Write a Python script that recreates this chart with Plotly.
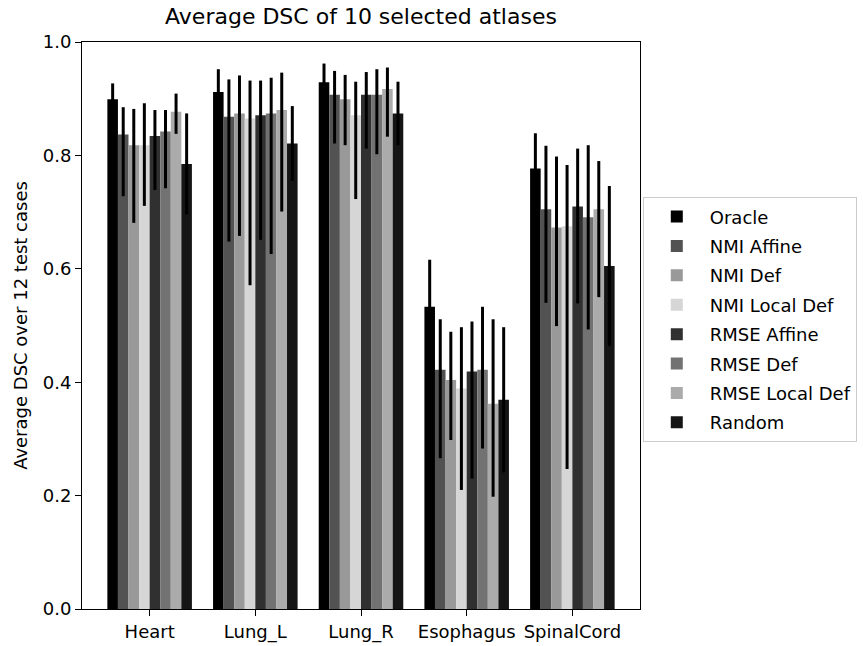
import plotly.graph_objects as go

organs = ["Heart", "Lung_L", "Lung_R", "Esophagus", "SpinalCord"]
methods = ["Oracle", "NMI Affine", "NMI Def", "NMI Local Def",
           "RMSE Affine", "RMSE Def", "RMSE Local Def", "Random"]
colors = ["#000000", "#525252", "#999999", "#d6d6d6",
          "#303030", "#727272", "#ababab", "#151515"]

# mean DSC per organ for each selection method
oracle        = [0.899, 0.912, 0.929, 0.533, 0.777]
nmi_affine    = [0.837, 0.868, 0.907, 0.422, 0.705]
nmi_def       = [0.818, 0.874, 0.899, 0.404, 0.673]
nmi_local_def = [0.818, 0.865, 0.871, 0.389, 0.675]
rmse_affine   = [0.834, 0.871, 0.907, 0.419, 0.710]
rmse_def      = [0.842, 0.874, 0.907, 0.422, 0.691]
rmse_local    = [0.877, 0.880, 0.917, 0.362, 0.705]
random_sel    = [0.785, 0.821, 0.874, 0.369, 0.605]

# upper / lower ends of the error bars
oracle_hi        = [0.927, 0.952, 0.962, 0.616, 0.839]
oracle_lo        = [0.871, 0.872, 0.896, 0.450, 0.715]
nmi_affine_hi    = [0.885, 0.934, 0.949, 0.511, 0.817]
nmi_affine_lo    = [0.728, 0.648, 0.821, 0.266, 0.540]
nmi_def_hi       = [0.882, 0.941, 0.942, 0.489, 0.798]
nmi_def_lo       = [0.681, 0.658, 0.818, 0.298, 0.499]
nmi_local_def_hi = [0.892, 0.932, 0.930, 0.497, 0.783]
nmi_local_def_lo = [0.711, 0.571, 0.723, 0.210, 0.247]
rmse_affine_hi   = [0.880, 0.932, 0.947, 0.507, 0.812]
rmse_affine_lo   = [0.739, 0.651, 0.812, 0.230, 0.539]
rmse_def_hi      = [0.880, 0.937, 0.952, 0.533, 0.818]
rmse_def_lo      = [0.742, 0.626, 0.802, 0.283, 0.493]
rmse_local_hi    = [0.909, 0.946, 0.955, 0.511, 0.790]
rmse_local_lo    = [0.838, 0.701, 0.833, 0.198, 0.550]
random_sel_hi    = [0.874, 0.887, 0.930, 0.497, 0.746]
random_sel_lo    = [0.696, 0.755, 0.818, 0.241, 0.464]

means = [oracle, nmi_affine, nmi_def, nmi_local_def,
         rmse_affine, rmse_def, rmse_local, random_sel]
highs = [oracle_hi, nmi_affine_hi, nmi_def_hi, nmi_local_def_hi,
         rmse_affine_hi, rmse_def_hi, rmse_local_hi, random_sel_hi]
lows = [oracle_lo, nmi_affine_lo, nmi_def_lo, nmi_local_def_lo,
        rmse_affine_lo, rmse_def_lo, rmse_local_lo, random_sel_lo]

yticks = [0.0, 0.2, 0.4, 0.6, 0.8, 1.0]
xpos = list(range(len(organs)))

FONT = "DejaVu Sans"

fig = go.Figure()
for name, col, m, hi, lo in zip(methods, colors, means, highs, lows):
    fig.add_trace(go.Bar(
        x=xpos, y=m, name=name, legendgroup=name,
        marker=dict(color=col, line=dict(width=0)),
        error_y=dict(type="data", symmetric=False,
                     array=[h - v for h, v in zip(hi, m)],
                     arrayminus=[v - l for v, l in zip(m, lo)],
                     color="#000000", thickness=3, width=0),
    ))

fig.update_layout(
    width=863, height=646,
    margin=dict(l=82, r=223, t=42, b=37, autoexpand=False),
    paper_bgcolor="white", plot_bgcolor="white",
    barmode="group", bargap=0.2, bargroupgap=0,
    font=dict(family=FONT, size=18, color="#000000"),
    title=dict(text="Average DSC of 10 selected atlases",
               x=361 / 863, xanchor="center",
               y=0.974, yanchor="middle",
               font=dict(family=FONT, size=22, color="#000000")),
    legend=dict(x=1.005, xanchor="left", y=0.51, yanchor="middle",
                bordercolor="#cccccc", borderwidth=1, bgcolor="white",
                font=dict(family=FONT, size=18, color="#000000"),
                itemwidth=56, tracegroupgap=3),
    showlegend=True,
)
fig.update_xaxes(
    range=[-0.64, 4.64], tickmode="array", tickvals=xpos, ticktext=organs,
    showline=True, linecolor="#000000", linewidth=1, mirror=True,
    ticks="outside", ticklen=6, tickcolor="#000000", showgrid=False,
    zeroline=False, tickfont=dict(family=FONT, size=18), automargin=False,
)
fig.update_yaxes(
    range=[0, 1.0], tickmode="array", tickvals=yticks,
    ticktext=[f"{v:.1f}" for v in yticks],
    showline=True, linecolor="#000000", linewidth=1, mirror=True,
    ticks="outside", ticklen=6, tickcolor="#000000", showgrid=False,
    zeroline=False, tickfont=dict(family=FONT, size=18), automargin=False,
    title=dict(text="Average DSC over 12 test cases",
               font=dict(family=FONT, size=18), standoff=10),
)

fig.write_html("out.html")
